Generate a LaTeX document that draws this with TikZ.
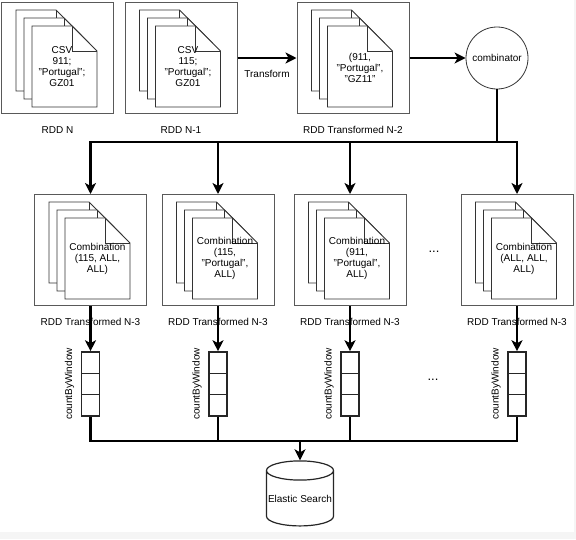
\documentclass[tikz,border=0pt]{standalone}
\usepackage{fontspec}
\setmainfont{Liberation Sans}
\usepackage{tikz}
\usetikzlibrary{positioning,arrows.meta,shapes.geometric,calc}

\begin{document}
\begin{tikzpicture}[
    x=1pt, y=-1pt,
    every node/.style={font=\fontsize{10}{11}\selectfont},
    rddbox/.style={draw=black!65, line width=1pt, minimum width=112, minimum height=111, inner sep=0},
    sheet/.style={draw=black!80, fill=white, line width=0.8pt},
    doctext/.style={align=center, inner sep=1pt},
    caption/.style={inner sep=1pt},
    link/.style={line width=2.4pt},
    flow/.style={line width=2.4pt, -{Stealth[length=11pt, width=11pt, inset=3pt]}},
    comb/.style={circle, draw=black!80, line width=0.8pt, minimum size=62, inner sep=0},
    queue/.style={draw=black!85, line width=1.6pt, minimum width=18, minimum height=64, inner sep=0,
      path picture={
        \foreach \f in {0.333,0.667}
          \draw[black!85, line width=1.6pt]
            ($(path picture bounding box.north west)!\f!(path picture bounding box.south west)$) -- ++(20,0);
      }},
    winlabel/.style={rotate=90, inner sep=1pt},
    db/.style={cylinder, shape border rotate=90, aspect=0.3, draw=black!85, line width=1.2pt,
      minimum width=67, minimum height=65, inner sep=0},
    dots/.style={font=\fontsize{13}{14}\selectfont},
  ]
    % Page background (screenshot strip at right and bottom)
    \fill[black!4] (0,0) rectangle (576,539);
    \fill[white] (0,0) rectangle (574,532);
    \useasboundingbox (0,0) rectangle (576,539);

    % --- RDD boxes, top row (y = 58) and bottom row (y = 250)
    \node[rddbox] (b1) at (57.5,58) {};
    \node[rddbox] (b2) at (181,58) {};
    \node[rddbox] (b3) at (353,58) {};
    \node[rddbox] (c1) at (90.5,250) {};
    \node[rddbox] (c2) at (218,250) {};
    \node[rddbox] (c3) at (350,250) {};
    \node[rddbox] (c4) at (517,250) {};

    % Stack of three folded sheets inside every box
    \foreach \b in {b1,b2,b3,c1,c2,c3,c4} {
      \foreach \k in {0,1,2} {
        \path (\b.north west) ++(15+8*\k, 8+8*\k) coordinate (d);
        \draw[sheet] (d) -- ++(40,0) -- ++(25,25) -- ++(0,56) -- ++(-65,0) -- cycle;
        \draw[sheet, fill=none] (d) ++(40,0) -- ++(0,25) -- ++(25,0);
      }
    }

    % Sheet contents
    \node[doctext] (tb1) at ([shift={(61,64.5)}]b1.north west) {CSV\\911;\\"Portugal";\\GZ01};
    \node[doctext] (tb2) at ([shift={(63.5,64.5)}]b2.north west) {CSV\\115;\\"Portugal";\\GZ01};
    \node[doctext] (tb3) at ([shift={(63.5,65.5)}]b3.north west) {(911,\\"Portugal",\\"GZ11"};
    \node[doctext] (tc1) at ([shift={(63.5,64.5)}]c1.north west) {Combination\\(115, ALL,\\ALL)};
    \node[doctext] (tc2) at ([shift={(63.5,64.5)}]c2.north west) {Combination\\(115,\\"Portugal",\\ALL)};
    \node[doctext] (tc3) at ([shift={(63.5,64.5)}]c3.north west) {Combination\\(911,\\"Portugal",\\ALL)};
    \node[doctext] (tc4) at ([shift={(63.5,64.5)}]c4.north west) {Combination\\(ALL, ALL,\\ALL)};

    % Captions
    \node[caption, below=11pt of b1] (lb1) {RDD N};
    \node[caption, below=11pt of b2] (lb2) {RDD N-1};
    \node[caption, below=11pt of b3] (lb3) {RDD Transformed N-2};
    \foreach \c in {c1,c2,c3,c4}
      \node[caption, below=11pt of \c] (l\c) {RDD Transformed N-3};

    \node[dots] (dots1) at (434,252) {...};

    % --- Transform and combinator
    \draw[flow] (b2.east) -- node[below=8pt] (tf) {Transform} (b3.west);
    \node[comb] (comb) at (497,58) {combinator};
    \draw[flow] (b3.east) -- (comb.west);

    \coordinate (split) at (comb.south |- 0,142);
    \draw[link] (comb.south) -- (split);
    \foreach \c in {c1,c2,c3,c4}
      \draw[flow] (split) -| (\c.north);

    % --- countByWindow queues
    \foreach \c/\i in {c1/1,c2/2,c3/3,c4/4} {
      \node[queue] (q\i) at (\c |- 0,384) {};
      \node[winlabel] (w\i) at ([xshift=-21]q\i.center) {countByWindow};
      \draw[flow] (\c.south) -- (q\i.north);
    }
    \node[dots] (dots2) at (433,380) {...};

    % --- Elastic Search sink
    \node[db] (es) at (300,498.5) {Elastic Search};
    \coordinate (merge) at (es.north |- 0,441);
    \foreach \i in {1,2,3,4}
      \draw[link] (q\i.south) |- (merge);
    \draw[flow] (merge) -- (es.north);
  \end{tikzpicture}
\end{document}
